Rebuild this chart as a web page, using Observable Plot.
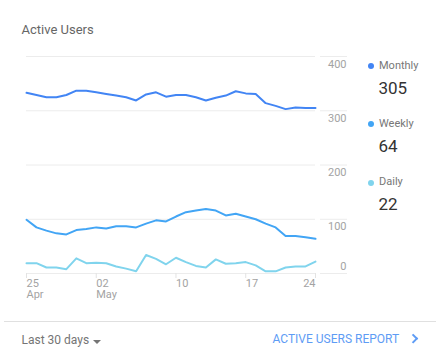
<!DOCTYPE html>
<html>
<head>
<meta charset="utf-8">
<script src="https://cdn.jsdelivr.net/npm/d3@7"></script>
<script src="https://cdn.jsdelivr.net/npm/@observablehq/plot@0.6"></script>
<style>
  html, body { margin: 0; padding: 0; background: #fff; }
  #wrap { position: relative; width: 438px; height: 358px; overflow: hidden; font-family: Roboto, "Noto Sans", sans-serif; }
  #wrap svg { position: absolute; left: 0; top: 0; }
  .t { position: absolute; line-height: 1; white-space: nowrap; }
  .dot { position: absolute; width: 6px; height: 6px; border-radius: 50%; }
</style>
</head>
<body>
<div id="wrap">
  <div class="t" style="left:21.5px;top:23px;font-size:13px;color:#666;">Active Users</div>
  <div id="legend"></div>
  <div style="position:absolute;left:4px;top:321px;width:432px;height:1px;background:#e0e0e0;"></div>
  <div class="t" style="left:21.5px;top:334px;font-size:12px;color:#757575;">Last 30 days</div>
  <div style="position:absolute;left:93px;top:339.5px;width:0;height:0;border-left:4px solid transparent;border-right:4px solid transparent;border-top:4px solid #757575;"></div>
  <div class="t" style="left:272.5px;top:333px;font-size:12px;color:#5e9cf5;">ACTIVE USERS REPORT</div>
  <div style="position:absolute;left:409.5px;top:335px;width:6.5px;height:6.5px;box-sizing:border-box;border-top:2px solid #5e9cf5;border-right:2px solid #5e9cf5;transform:rotate(45deg);"></div>
</div>
<script>
const dates = ["2017-04-25","2017-04-26","2017-04-27","2017-04-28","2017-04-29","2017-04-30",
  "2017-05-01","2017-05-02","2017-05-03","2017-05-04","2017-05-05","2017-05-06","2017-05-07",
  "2017-05-08","2017-05-09","2017-05-10","2017-05-11","2017-05-12","2017-05-13","2017-05-14",
  "2017-05-15","2017-05-16","2017-05-17","2017-05-18","2017-05-19","2017-05-20","2017-05-21",
  "2017-05-22","2017-05-23","2017-05-24"];
const monthly = [333,329,325,325,329,337,337,334,331,328,325,319,330,334,326,329,329,325,319,324,328,336,332,331,314,309,303,306,305,305];
const weekly = [99,85,79,74,72,80,82,85,83,87,87,85,92,98,96,105,113,116,119,116,107,110,105,100,92,85,69,69,67,64];
const daily = [19,19,11,11,8,28,19,20,19,13,9,4,34,27,17,29,21,14,11,26,18,19,21,15,4,4,11,13,13,22];
const seriesNames = ["Monthly","Weekly","Daily"];
const seriesColors = ["#4285f4","#42a5f5","#80d4ed"];
const latest = [305, 64, 22];
const yTicks = [0,100,200,300,400];
const xTickDates = ["2017-04-25","2017-05-02","2017-05-10","2017-05-17","2017-05-24"];
const xTickLabels = ["25\nApr","02\nMay","10","17","24"];

const parse = d3.utcParse("%Y-%m-%d");
const rows = [];
[monthly, weekly, daily].forEach((vals, s) => {
  vals.forEach((v, i) => rows.push({series: seriesNames[s], date: parse(dates[i]), value: v}));
});
const xt = xTickDates.map(parse);
const labelOf = new Map(xt.map((d, i) => [+d, xTickLabels[i]]));
const fmt = d => labelOf.get(+d);

const chart = Plot.plot({
  width: 438, height: 310,
  marginLeft: 26, marginRight: 123, marginTop: 56, marginBottom: 37,
  style: {fontFamily: "Roboto, sans-serif", fontSize: "11px", background: "transparent"},
  x: {type: "utc", domain: [parse(dates[0]), parse(dates[dates.length - 1])], label: null},
  y: {domain: [0, 400], label: null},
  color: {domain: seriesNames, range: seriesColors},
  marks: [
    Plot.gridY(yTicks, {stroke: "#ececec", strokeOpacity: 1}),
    Plot.axisY(yTicks, {anchor: "right", tickSize: 27, dx: 4, stroke: "#ececec", strokeOpacity: 1, tickFormat: () => "", label: null}),
    Plot.text(yTicks.filter(d => d > 0), {y: d => d, text: d => String(d), frameAnchor: "right", textAnchor: "end", dx: 31, dy: 7.5, fill: "#a3a3a3", fontSize: 11}),
    Plot.text(yTicks.filter(d => d === 0), {y: d => d, text: d => String(d), frameAnchor: "right", textAnchor: "end", dx: 31, dy: -7.3, fill: "#a3a3a3", fontSize: 11}),
    Plot.axisX(xt.slice(0, 4), {tickSize: 5, tickPadding: 1, textAnchor: "start", tickFormat: fmt, stroke: "#e3e3e3", fill: "#a3a3a3", fontSize: 11, lineHeight: 1, label: null}),
    Plot.axisX(xt.slice(4), {tickSize: 5, tickPadding: 1, textAnchor: "end", tickFormat: fmt, stroke: "#e3e3e3", fill: "#a3a3a3", fontSize: 11, lineHeight: 1, label: null}),
    Plot.line(rows, {x: "date", y: "value", stroke: "series", z: "series", strokeWidth: 2})
  ]
});
document.getElementById("wrap").prepend(chart);

const legend = document.getElementById("legend");
const labelTops = [60, 118, 176];
const valueTops = [79.5, 137.5, 195.5];
const dotCenters = [65.5, 124.3, 182.7];
seriesNames.forEach((name, i) => {
  const dot = document.createElement("div");
  dot.className = "dot";
  dot.style.left = (371 - 3) + "px";
  dot.style.top = (dotCenters[i] - 3) + "px";
  dot.style.background = seriesColors[i];
  legend.appendChild(dot);
  const lab = document.createElement("div");
  lab.className = "t";
  lab.style.cssText = `left:379px;top:${labelTops[i]}px;font-size:11px;color:#777;`;
  lab.textContent = name;
  legend.appendChild(lab);
  const val = document.createElement("div");
  val.className = "t";
  val.style.cssText = `left:378.5px;top:${valueTops[i]}px;font-size:17px;color:#333;`;
  val.textContent = String(latest[i]);
  legend.appendChild(val);
});
</script>
</body>
</html>
